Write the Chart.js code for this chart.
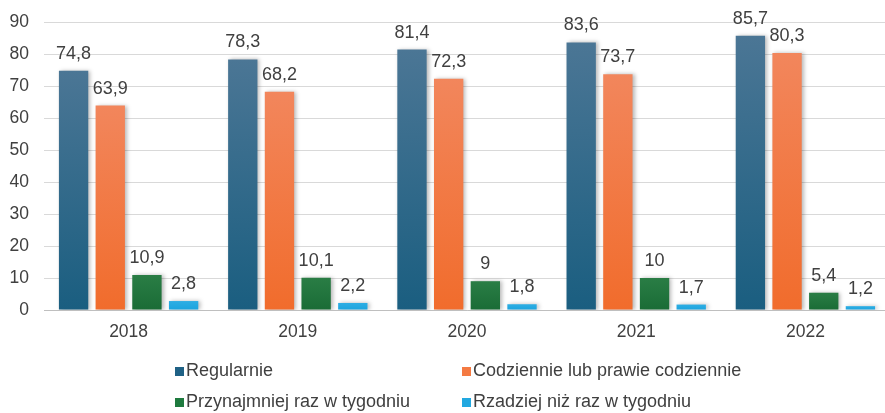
<!DOCTYPE html>
<html>
<head>
<meta charset="utf-8">
<script src="https://cdn.jsdelivr.net/npm/chart.js@4/dist/chart.umd.min.js"></script>
<style>
  html, body { margin: 0; padding: 0; background: #ffffff; overflow: hidden; width: 885px; height: 413px; }
  #wrap { position: absolute; left: 0; top: 0; width: 892px; height: 413px; }
  .lg { position: absolute; font-family: "Liberation Sans", Arial, sans-serif; font-size: 18px; color: #404040; white-space: nowrap; line-height: 20px; height: 20px; }
  .lg i { position: absolute; left: 0; top: 7px; width: 9px; height: 9px; }
  .lg span { position: absolute; left: 11px; top: 0; }
</style>
</head>
<body>
<div id="wrap"><canvas id="c" width="892" height="413"></canvas></div>
<div id="legend"></div>
<script>
const categories = ['2018', '2019', '2020', '2021', '2022'];
const seriesNames = ['Regularnie', 'Codziennie lub prawie codziennie', 'Przynajmniej raz w tygodniu', 'Rzadziej niż raz w tygodniu'];
const regularnie = [74.8, 78.3, 81.4, 83.6, 85.7];
const codziennie = [63.9, 68.2, 72.3, 73.7, 80.3];
const przynajmniej = [10.9, 10.1, 9, 10, 5.4];
const rzadziej = [2.8, 2.2, 1.8, 1.7, 1.2];
const yTicks = [0, 10, 20, 30, 40, 50, 60, 70, 80, 90];

const colorTop = ['#4b7695', '#f2865c', '#2a7d45', '#2eaee4'];
const colorBottom = ['#1a5e80', '#f16c2c', '#1a6c36', '#1ba4de'];
const legendColor = ['#1f6185', '#f47a42', '#1e7a3e', '#22a8e0'];

function gradFill(i) {
  return function (ctx) {
    const chart = ctx.chart;
    if (!chart.chartArea || ctx.raw === undefined) return legendColor[i];
    const ys = chart.scales.y;
    const top = ys.getPixelForValue(ctx.raw);
    const base = ys.getPixelForValue(0);
    if (!isFinite(top) || !isFinite(base) || base - top < 1) return colorBottom[i];
    const g = chart.ctx.createLinearGradient(0, top, 0, base);
    g.addColorStop(0, colorTop[i]);
    g.addColorStop(1, colorBottom[i]);
    return g;
  };
}

const seriesValues = [regularnie, codziennie, przynajmniej, rzadziej];

const shadowPlugin = {
  id: 'barShadow',
  beforeDatasetDraw(chart) {
    const c = chart.ctx;
    c.save();
    c.shadowColor = 'rgba(0,0,0,0.28)';
    c.shadowBlur = 4;
    c.shadowOffsetX = 2;
    c.shadowOffsetY = 0;
  },
  afterDatasetDraw(chart) {
    chart.ctx.restore();
  }
};

const labelPlugin = {
  id: 'valueLabels',
  afterDatasetsDraw(chart) {
    const c = chart.ctx;
    c.save();
    c.font = '18px "Liberation Sans", Arial, sans-serif';
    c.fillStyle = '#404040';
    c.textAlign = 'center';
    c.textBaseline = 'alphabetic';
    chart.data.datasets.forEach((ds, di) => {
      const meta = chart.getDatasetMeta(di);
      meta.data.forEach((el, i) => {
        const txt = String(ds.data[i]).replace('.', ',');
        c.fillText(txt, el.x, el.y - 12);
      });
    });
    c.restore();
  }
};

const xTickFont = { family: '"Liberation Sans", Arial, sans-serif', size: 17.5 };
const yTickFont = { family: '"Liberation Sans", Arial, sans-serif', size: 17.5, lineHeight: 0.8 };

const chart = new Chart(document.getElementById('c'), {
  type: 'bar',
  data: {
    labels: categories,
    datasets: seriesValues.map((vals, i) => ({
      label: seriesNames[i],
      data: vals,
      backgroundColor: gradFill(i),
      borderWidth: 0,
      categoryPercentage: 0.867,
      barPercentage: 0.8
    }))
  },
  options: {
    responsive: false,
    animation: false,
    devicePixelRatio: 1,
    layout: { padding: { left: 0, right: 2, top: 0, bottom: 73 } },
    plugins: {
      legend: { display: false },
      tooltip: { enabled: false }
    },
    scales: {
      x: {
        afterFit(axis) { axis.height = 30; },
        grid: { display: false, drawTicks: false },
        border: { display: true, color: '#bfbfbf', width: 1 },
        ticks: { color: '#404040', font: xTickFont, padding: 12 }
      },
      y: {
        min: 0,
        max: 90,
        afterFit(axis) { axis.width = 44; },
        afterBuildTicks(axis) { axis.ticks = yTicks.map(v => ({ value: v })); },
        grid: { color: '#d9d9d9', drawTicks: false },
        border: { display: false },
        ticks: { color: '#404040', font: yTickFont, padding: 15 }
      }
    }
  },
  plugins: [shadowPlugin, labelPlugin]
});

// HTML legend built from chart datasets (2-column grid)
const legendPos = [[175, 360], [462, 360], [175, 391], [462, 391]];
const lg = document.getElementById('legend');
chart.data.datasets.forEach((ds, i) => {
  const d = document.createElement('div');
  d.className = 'lg';
  d.style.left = legendPos[i][0] + 'px';
  d.style.top = legendPos[i][1] + 'px';
  const box = document.createElement('i');
  box.style.background = legendColor[i];
  const sp = document.createElement('span');
  sp.textContent = ds.label;
  d.appendChild(box);
  d.appendChild(sp);
  lg.appendChild(d);
});
</script>
</body>
</html>
